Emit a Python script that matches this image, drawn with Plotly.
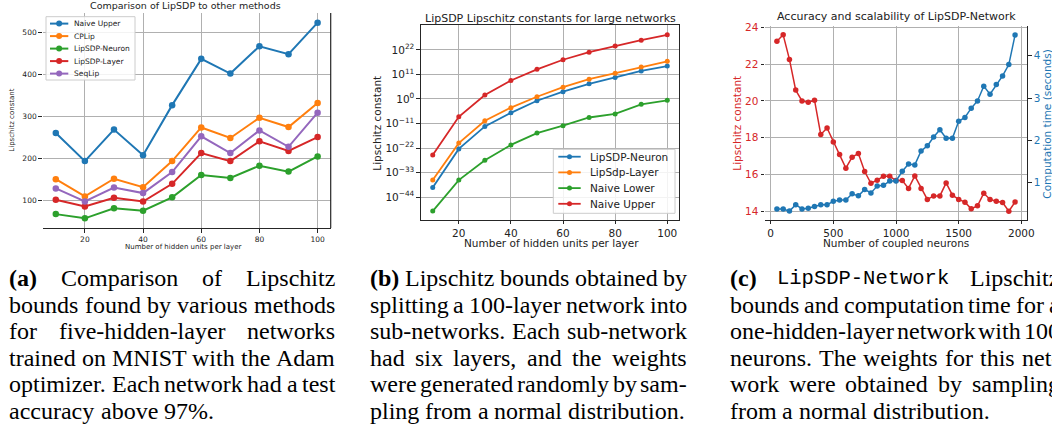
import plotly.graph_objects as go

# ---------------- data ----------------
hidden_units = [10, 20, 30, 40, 50, 60, 70, 80, 90, 100]

# (a) Comparison of LipSDP to other methods
a_names = ["Naive Upper", "CPLip", "LipSDP-Neuron", "LipSDP-Layer", "SeqLip"]
a_naive_upper = [261, 194, 269, 208, 327, 437, 402, 467, 448, 523]
a_cplip = [151, 110, 152, 132, 194, 274, 249, 297, 275, 332]
a_lipsdp_neuron = [68, 58, 82, 76, 108, 161, 154, 183, 169, 205]
a_lipsdp_layer = [102, 86, 107, 98, 140, 213, 194, 241, 218, 251]
a_seqlip = [129, 98, 131, 118, 168, 253, 213, 267, 228, 309]

# (b) LipSDP Lipschitz constants for large networks
b_names = ["LipSDP-Neuron", "LipSdp-Layer", "Naive Lower", "Naive Upper"]
b_lipsdp_neuron = [2e-40, 4e-23, 5e-13, 6.3e-7, 0.16, 2e3, 6.3e6, 4e9, 4e12, 6.3e14]
b_lipsdp_layer = [4e-37, 1.6e-20, 1.6e-10, 1.3e-4, 10, 2e5, 8e8, 4e11, 2.5e14, 8e16]
b_naive_lower = [5e-51, 4e-37, 3e-28, 2.5e-21, 5e-16, 1e-12, 5e-9, 2e-7, 4e-3, 0.25]
b_naive_upper = [8e-26, 1e-8, 63, 2e8, 2e13, 4e17, 1e21, 6.3e23, 2.5e26, 6.3e28]
b_tickvals = [1e-44, 1e-33, 1e-22, 1e-11, 1e0, 1e11, 1e22]
b_ticktext = ["10<sup>\u221244</sup>", "10<sup>\u221233</sup>", "10<sup>\u221222</sup>",
              "10<sup>\u221211</sup>", "10<sup>0</sup>", "10<sup>11</sup>", "10<sup>22</sup>"]

# (c) Accuracy and scalability of LipSDP-Network
c_neurons = [50, 100, 150, 200, 250, 300, 350, 400, 450, 500, 550, 600, 650, 700, 750,
             800, 850, 900, 950, 1000, 1050, 1100, 1150, 1200, 1250, 1300, 1350, 1400,
             1450, 1500, 1550, 1600, 1650, 1700, 1750, 1800, 1850, 1900, 1950]
c_lipschitz = [23.25, 23.6, 22.26, 20.59, 20.0, 19.93, 20.04, 18.17, 18.53, 17.77, 17.09,
               16.34, 16.94, 17.14, 16.16, 15.52, 15.69, 15.9, 15.9, 15.67, 15.67, 15.24,
               15.92, 15.24, 14.64, 14.83, 14.83, 15.54, 14.87, 14.64, 14.49, 14.13, 14.29,
               14.98, 14.64, 14.54, 14.47, 14.0, 14.5]
c_time = [0.38, 0.38, 0.33, 0.48, 0.38, 0.40, 0.44, 0.48, 0.48, 0.56, 0.59, 0.59, 0.74,
          0.69, 0.84, 0.76, 0.92, 0.94, 1.04, 1.04, 1.27, 1.44, 1.42, 1.75, 1.87, 2.08,
          2.25, 2.05, 2.05, 2.45, 2.54, 2.76, 2.93, 3.28, 3.09, 3.32, 3.52, 3.79, 4.49]

# captions (one string per printed line)
cap_a = ["<b>(a)</b> Comparison of Lipschitz",
         "bounds found by various methods",
         "for five-hidden-layer networks",
         "trained on MNIST with the Adam",
         "optimizer. Each network had a test",
         "accuracy above 97%."]
cap_b = ["<b>(b)</b> Lipschitz bounds obtained by",
         "splitting a 100-layer network into",
         "sub-networks. Each sub-network",
         "had six layers, and the weights",
         "were generated randomly by sam-",
         "pling from a normal distribution."]
cap_c = ["<b>(c)</b> <tt>LipSDP-Network</tt> Lipschitz",
         "bounds and computation time for a",
         "one-hidden-layer network with 100",
         "neurons. The weights for this net-",
         "work were obtained by sampling",
         "from a normal distribution."]

# ---------------- layout helpers ----------------
W, H = 1052, 429
def px(x):
    return x / W
def py(y):
    return 1 - y / H

BLUE, ORANGE, GREEN, RED, PURPLE = "#1f77b4", "#ff7f0e", "#2ca02c", "#d62728", "#9467bd"
GRID = "#b0b0b0"
SPINE = "#262626"
CHART_FONT = "DejaVu Sans"

fig = go.Figure()

a_series = [a_naive_upper, a_cplip, a_lipsdp_neuron, a_lipsdp_layer, a_seqlip]
a_colors = [BLUE, ORANGE, GREEN, RED, PURPLE]
for name, vals, col in zip(a_names, a_series, a_colors):
    fig.add_trace(go.Scatter(x=hidden_units, y=vals, name=name, mode="lines+markers",
                             line=dict(color=col, width=2), marker=dict(color=col, size=6.5),
                             xaxis="x", yaxis="y", showlegend=False))

b_series = [b_lipsdp_neuron, b_lipsdp_layer, b_naive_lower, b_naive_upper]
b_colors = [BLUE, ORANGE, GREEN, RED]
for name, vals, col in zip(b_names, b_series, b_colors):
    fig.add_trace(go.Scatter(x=hidden_units, y=vals, name=name, mode="lines+markers",
                             line=dict(color=col, width=1.8), marker=dict(color=col, size=5),
                             xaxis="x2", yaxis="y2", showlegend=False))

fig.add_trace(go.Scatter(x=c_neurons, y=c_lipschitz, mode="lines+markers", showlegend=False,
                         name="Lipschitz constant",
                         line=dict(color=RED, width=1.5), marker=dict(color=RED, size=5.5),
                         xaxis="x3", yaxis="y3"))
fig.add_trace(go.Scatter(x=c_neurons, y=c_time, mode="lines+markers", showlegend=False,
                         name="Computation time (seconds)",
                         line=dict(color=BLUE, width=1.5), marker=dict(color=BLUE, size=5.5),
                         xaxis="x3", yaxis="y4"))

common = dict(showgrid=True, gridcolor=GRID, gridwidth=0.8, zeroline=False,
              ticks="outside", ticklen=3.5, tickcolor=SPINE, automargin=False,
              tickfont=dict(family=CHART_FONT, color="#222"))

def ax(**kw):
    d = dict(common)
    tf = dict(common["tickfont"])
    tf.update(kw.pop("tickfont", {}))
    d.update(kw)
    d["tickfont"] = tf
    return d

fig.update_layout(
    width=W, height=H, template="none", showlegend=False,
    margin=dict(l=0, r=0, t=0, b=0),
    paper_bgcolor="white", plot_bgcolor="white",
    font=dict(family=CHART_FONT, color="#222"),
    xaxis=ax(domain=[px(42.7), px(330.7)], range=[5.5, 104.5], tickvals=[20, 40, 60, 80, 100],
             anchor="y", showline=True, linecolor=SPINE, linewidth=1.2, tickfont=dict(size=7.5)),
    yaxis=ax(domain=[py(228), py(13)], range=[35, 546], tickvals=[100, 200, 300, 400, 500],
             anchor="x", showline=False, tickfont=dict(size=7.5)),
    xaxis2=ax(domain=[px(421), px(679)], range=[5.5, 104.5], tickvals=[20, 40, 60, 80, 100],
              anchor="y2", showline=True, mirror=True, linecolor=SPINE, linewidth=1.2,
              ticklen=3, tickfont=dict(size=10.5)),
    yaxis2=ax(domain=[py(220), py(25)], type="log", range=[-54.3, 33.2], tickvals=b_tickvals,
              ticktext=b_ticktext, anchor="x2", showline=True, mirror=True, linecolor=SPINE,
              linewidth=1.2, tickfont=dict(size=10.5)),
    xaxis3=ax(domain=[px(765), px(1027)], range=[-45, 2045], tickvals=[0, 500, 1000, 1500, 2000],
              anchor="y3", showline=True, linecolor=SPINE, linewidth=1.2, ticklen=3,
              tickfont=dict(size=10.5)),
    yaxis3=ax(domain=[py(220), py(26)], range=[13.52, 24.08], tickvals=[14, 16, 18, 20, 22, 24],
              anchor="x3", showline=False, tickfont=dict(size=10.5, color=RED)),
    yaxis4=ax(overlaying="y3", side="right", range=[0.12, 4.70], tickvals=[1, 2, 3, 4],
              anchor="x3", showgrid=False, showline=True, linecolor=SPINE, linewidth=1.2,
              tickfont=dict(size=10.5, color=BLUE)),
)

shapes = []
annos = []

# right spine of (a)
shapes.append(dict(type="line", xref="x domain", yref="y domain", x0=1, x1=1, y0=0, y1=1,
                   line=dict(color=SPINE, width=1.2)))

def text(x, y, s, size, color="#222", family=CHART_FONT, angle=0, xanchor="center"):
    annos.append(dict(x=px(x), y=py(y), xref="paper", yref="paper", text=s, showarrow=False,
                      xanchor=xanchor, yanchor="middle", textangle=angle,
                      font=dict(size=size, color=color, family=family)))

# ---- legends (matplotlib-like compact boxes) ----
def legend_box(box, key_x, text_x, rows, names, colors, size, mk, lw):
    x0, y0, x1, y1 = box
    shapes.append(dict(type="rect", xref="paper", yref="paper", x0=px(x0), x1=px(x1),
                       y0=py(y1), y1=py(y0), fillcolor="rgba(255,255,255,0.85)",
                       line=dict(color="#cccccc", width=1), layer="above"))
    for name, col, ry in zip(names, colors, rows):
        shapes.append(dict(type="line", xref="paper", yref="paper", x0=px(key_x[0]),
                           x1=px(key_x[1]), y0=py(ry), y1=py(ry),
                           line=dict(color=col, width=lw), layer="above"))
        cx = (key_x[0] + key_x[1]) / 2
        shapes.append(dict(type="circle", xref="paper", yref="paper", x0=px(cx - mk / 2),
                           x1=px(cx + mk / 2), y0=py(ry + mk / 2), y1=py(ry - mk / 2),
                           fillcolor=col, line=dict(color=col, width=0), layer="above"))
        text(text_x, ry, name, size, xanchor="left")

legend_box((46, 16.7, 135, 80), (50, 68.3), 71.7, [23.6, 36.1, 48.6, 61.1, 73.6],
           a_names, a_colors, 7.5, 6, 2)
legend_box((553.3, 149.3, 675, 213.3), (558.3, 580.7), 588.3, [156.7, 172.4, 188.1, 203.8],
           b_names, b_colors, 10.5, 5, 1.8)

# chart titles and axis titles
text(185.7, 5, "Comparison of LipSDP to other methods", 9.5)
text(183, 247, "Number of hidden units per layer", 7)
text(11.7, 120, "Lipschitz constant", 7, angle=-90)

text(550, 18.3, "LipSDP Lipschitz constants for large networks", 11)
text(551.7, 243, "Number of hidden units per layer", 10.5)
text(376.7, 123, "Lipschitz constant", 10.5, angle=-90)

text(896.5, 16.7, "Accuracy and scalability of LipSDP-Network", 11)
text(896, 243, "Number of coupled neurons", 10.5)
text(736.7, 123, "Lipschitz constant", 10.5, color=RED, angle=-90)
text(1046.7, 124, "Computation time (seconds)", 10.5, color=BLUE, angle=-90)

# ---- captions: justified lines like the LaTeX original ----
SERIF = "Liberation Serif"
MONO = "Liberation Mono"
CAP_SIZE = 24
MONO_SIZE = 20.5
REG = dict(a=444, b=500, c=444, d=500, e=444, f=333, g=500, h=500, i=278, j=278, k=500,
           l=278, m=778, n=500, o=500, p=500, q=500, r=333, s=389, t=278, u=500, v=500,
           w=722, x=500, y=500, z=444, A=722, B=667, C=667, D=722, E=611, F=556, G=722,
           H=722, I=333, J=389, K=722, L=611, M=889, N=722, O=722, P=556, Q=722, R=667,
           S=556, T=611, U=722, V=722, W=944, X=722, Y=722, Z=611)
REG.update({".": 250, ",": 250, "-": 333, "(": 333, ")": 333, "%": 833})
REG.update({str(d): 500 for d in range(10)})
BOLD = {"(": 333, ")": 333, "a": 500, "b": 556, "c": 444}

def word_info(w):
    if w.startswith("<b>"):
        raw = w[3:-4]
        return raw, sum(BOLD.get(ch, 500) for ch in raw) * CAP_SIZE / 1000, SERIF, CAP_SIZE, True
    if w.startswith("<tt>"):
        raw = w[4:-5]
        return raw, len(raw) * 0.6 * MONO_SIZE, MONO, MONO_SIZE, False
    return w, sum(REG.get(ch, 500) for ch in w) * CAP_SIZE / 1000, SERIF, CAP_SIZE, False

line_y = [278, 304.6, 331.2, 357.8, 384.4, 411]
columns = [(cap_a, 7.3, [333.0] * 6),
           (cap_b, 367.7, [685.0] * 6),
           (cap_c, 727.7, [1057.6] * 6)]
for cap, x_left, x_rights in columns:
    for i, ln in enumerate(cap):
        words = [word_info(w) for w in ln.split(" ")]
        natural_gap = 250 * CAP_SIZE / 1000
        total = sum(w[1] for w in words)
        if i < len(cap) - 1 and len(words) > 1:
            gap = max(3.0, (x_rights[i] - x_left - total) / (len(words) - 1))
        else:
            gap = natural_gap
        xw = x_left
        for raw, wd, fam, sz, bold in words:
            s = "<b>%s</b>" % raw if bold else raw
            text(xw, line_y[i], s, sz, color="black", family=fam, xanchor="left")
            xw += wd + gap

fig.update_layout(shapes=shapes, annotations=annos)
fig.write_html("out.html", config={"displayModeBar": False},
               post_script="document.body.style.margin='0';document.body.style.overflow='hidden';")
